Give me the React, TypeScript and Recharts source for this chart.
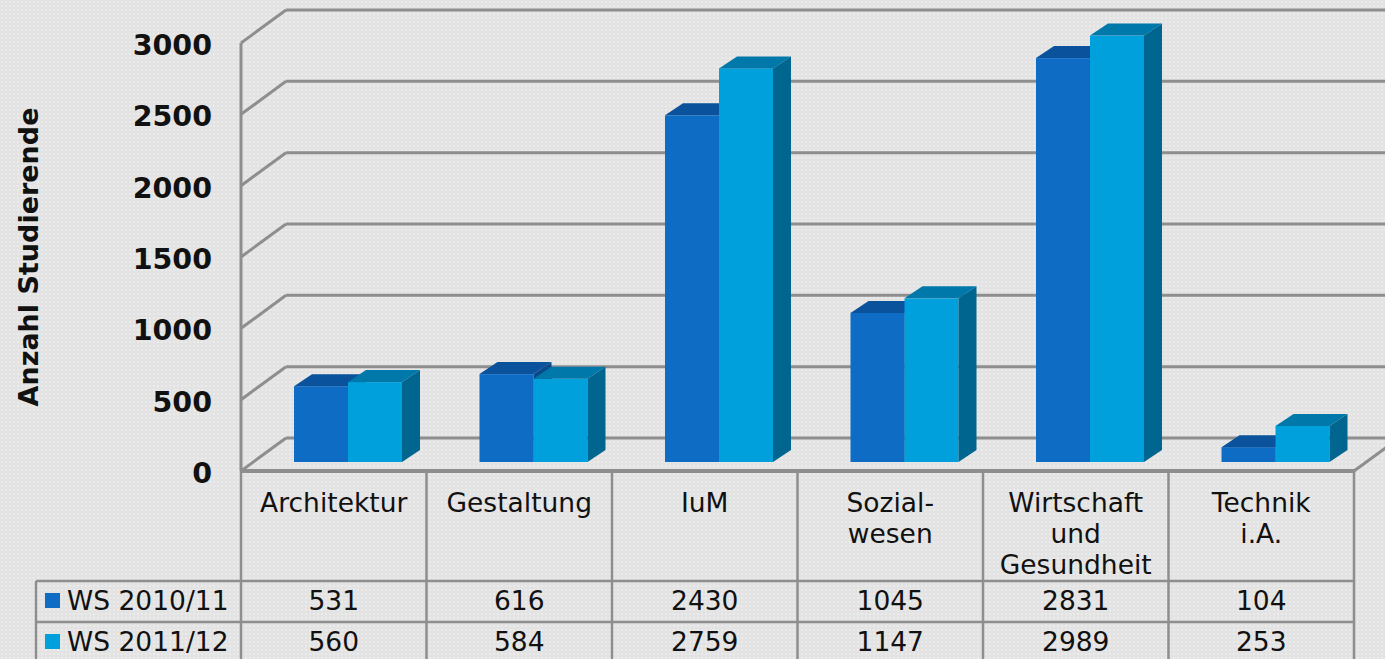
import { Bar, BarChart, CartesianGrid, XAxis, YAxis } from 'recharts';

// categories as shown in the data table (line breaks as in the picture)
const categories = ['Architektur', 'Gestaltung', 'IuM', 'Sozial-\nwesen', 'Wirtschaft\nund\nGesundheit', 'Technik\ni.A.'];
const ws201011 = [531, 616, 2430, 1045, 2831, 104];
const ws201112 = [560, 584, 2759, 1147, 2989, 253];
const seriesNames = ['WS 2010/11', 'WS 2011/12'];
const yTicks = [0, 500, 1000, 1500, 2000, 2500, 3000];
const axisTitle = 'Anzahl Studierende';

const data = categories.map((cat, i) => ({ cat, a: ws201011[i], b: ws201112[i] }));
const seriesValues = [ws201011, ws201112];

// layout
const W = 1385;
const H = 659;
const LEFT = 241;
const RIGHT = 1354;
const TOP = 43;
const FLOOR = 471;
const BAND = (RIGHT - LEFT) / categories.length;
const BACK_DX = 45;
const BACK_DY = 33;
const BAR_DX = 14;
const BAR_DY = 9;
const DEPTH_X = 18;
const DEPTH_Y = 12;
const ROW1 = 581;
const ROW2 = 622;
const LEG_LEFT = 36;
const LINE_H = 31;

const GRID = '#8e8e8e';
const TEXT = '#111';
const FONT = '"DejaVu Sans", Verdana, sans-serif';

const colors = [
  { front: '#0e6cc4', top: '#0a529c', side: '#094a8c' },
  { front: '#00a0dc', top: '#0079aa', side: '#00658f' },
];

const box3d = (p: any, c: { front: string; top: string; side: string }) => {
  const { x, y, width, height } = p;
  if (height == null || width == null) return <g />;
  const x0 = x + BAR_DX;
  const y0 = y - BAR_DY;
  const x1 = x0 + width;
  const y1 = y0 + height;
  return (
    <g>
      <rect x={x0} y={y0} width={width} height={height} fill={c.front} />
      <polygon
        points={`${x0},${y0} ${x0 + DEPTH_X},${y0 - DEPTH_Y} ${x1 + DEPTH_X},${y0 - DEPTH_Y} ${x1},${y0}`}
        fill={c.top}
      />
      <polygon
        points={`${x1},${y0} ${x1 + DEPTH_X},${y0 - DEPTH_Y} ${x1 + DEPTH_X},${y1 - DEPTH_Y} ${x1},${y1}`}
        fill={c.side}
      />
    </g>
  );
};

const wallLine = (p: any) => {
  const { x1, x2, y1 } = p;
  const by = y1 - BACK_DY;
  const floor = Math.abs(y1 - FLOOR) < 1;
  return (
    <g key={p.key ?? `g-${y1}`} stroke={GRID} strokeWidth={3}>
      <line x1={x1} y1={y1} x2={x1 + BACK_DX} y2={by} />
      <line x1={x1 + BACK_DX} y1={by} x2={x2 + BACK_DX} y2={by} />
      {floor && <line x1={x1} y1={y1} x2={x2} y2={y1} strokeWidth={4} />}
      {floor && <line x1={x2} y1={y1} x2={x2 + BACK_DX} y2={by} />}
    </g>
  );
};

const YTick = (p: any) => (
  <text
    x={LEFT - 29}
    y={p.y + 4}
    textAnchor="end"
    dominantBaseline="middle"
    fontFamily={FONT}
    fontWeight="bold"
    fontSize={28.5}
    fill={TEXT}
  >
    {p.payload.value}
  </text>
);

const AxisTitle = () => (
  <text
    x={30}
    y={(TOP + FLOOR) / 2}
    transform={`rotate(-90 30 ${(TOP + FLOOR) / 2})`}
    textAnchor="middle"
    dominantBaseline="middle"
    fontFamily={FONT}
    fontWeight="bold"
    fontSize={27}
    fill={TEXT}
  >
    {axisTitle}
  </text>
);

const TableTick = (p: any) => {
  const { x, index, payload } = p;
  const left = x - BAND / 2;
  const right = x + BAND / 2;
  const lines = String(payload.value).split('\n');
  const txt = { fontFamily: FONT, fontSize: 26.5, fill: TEXT };
  return (
    <g>
      {lines.map((l, i) => (
        <text key={i} x={x} y={FLOOR + 41 + i * LINE_H} textAnchor="middle" {...txt}>
          {l}
        </text>
      ))}
      {seriesValues.map((vals, s) => (
        <text key={s} x={x} y={ROW1 + 29 + s * (ROW2 - ROW1)} textAnchor="middle" {...txt}>
          {vals[index]}
        </text>
      ))}
      <g stroke={GRID} strokeWidth={2.5}>
        <line x1={right} y1={FLOOR} x2={right} y2={H} />
        {index === 0 && <line x1={left} y1={FLOOR} x2={left} y2={H} />}
        <line x1={left} y1={ROW1} x2={right} y2={ROW1} />
        <line x1={left} y1={ROW2} x2={right} y2={ROW2} />
        {index === 0 && (
          <>
            <line x1={LEG_LEFT} y1={ROW1} x2={left} y2={ROW1} />
            <line x1={LEG_LEFT} y1={ROW2} x2={left} y2={ROW2} />
            <line x1={LEG_LEFT} y1={ROW1} x2={LEG_LEFT} y2={H} />
          </>
        )}
      </g>
      {index === 0 &&
        seriesNames.map((n, s) => (
          <g key={n}>
            <rect x={LEG_LEFT + 9} y={ROW1 + 12 + s * (ROW2 - ROW1)} width={15} height={15} fill={colors[s].front} />
            <text x={LEG_LEFT + 31} y={ROW1 + 29 + s * (ROW2 - ROW1)} {...txt}>
              {n}
            </text>
          </g>
        ))}
    </g>
  );
};

export default function App() {
  return (
    <div
      style={{
        position: 'absolute',
        left: 0,
        top: 0,
        width: W,
        height: H,
        backgroundColor: '#e3e3e3',
        backgroundImage: 'radial-gradient(circle, #ebebeb 0.8px, transparent 1px)',
        backgroundSize: '4px 4px',
      }}
    >
      <BarChart
        width={W}
        height={H}
        data={data}
        margin={{ top: TOP, right: W - RIGHT, left: 0, bottom: 0 }}
        barGap={0}
      >
        <CartesianGrid vertical={false} horizontal={wallLine} />
        <YAxis
          width={LEFT}
          domain={[0, 3000]}
          ticks={yTicks}
          interval={0}
          tickLine={false}
          axisLine={{ stroke: GRID, strokeWidth: 3 }}
          tick={YTick}
          label={<AxisTitle />}
        />
        <XAxis dataKey="cat" height={H - FLOOR} interval={0} tickLine={false} axisLine={false} tick={TableTick} />
        <Bar dataKey="a" name={seriesNames[0]} barSize={54} isAnimationActive={false} shape={(p: any) => box3d(p, colors[0])} />
        <Bar dataKey="b" name={seriesNames[1]} barSize={54} isAnimationActive={false} shape={(p: any) => box3d(p, colors[1])} />
      </BarChart>
    </div>
  );
}
